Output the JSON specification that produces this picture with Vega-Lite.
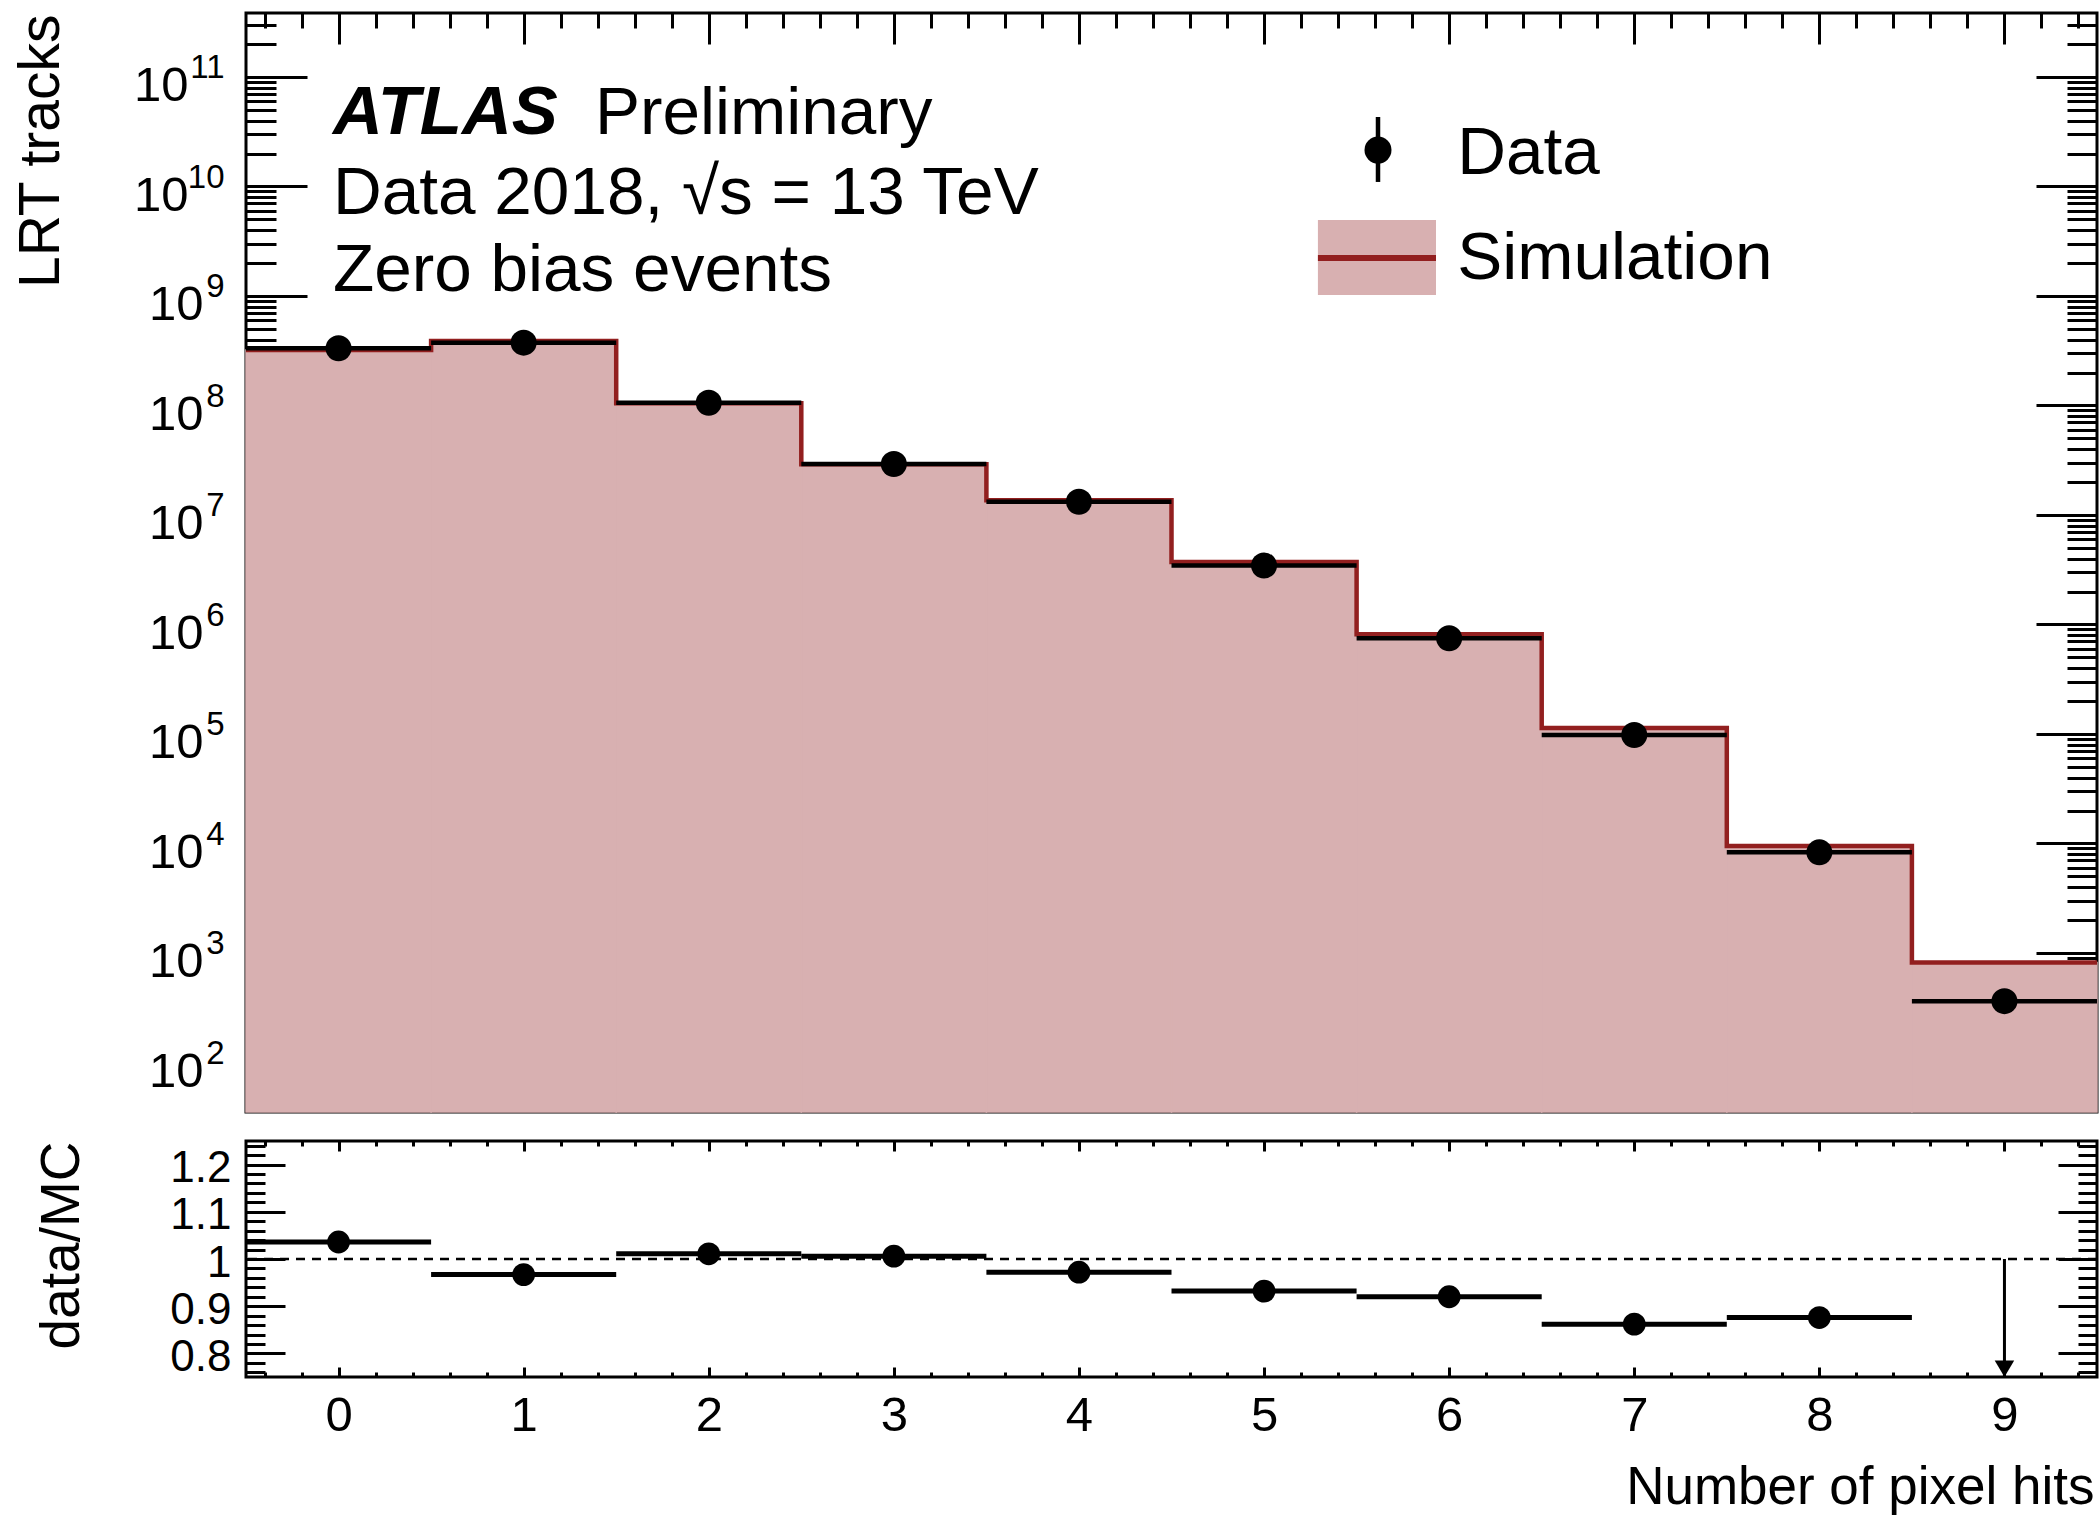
{
  "$schema": "https://vega.github.io/schema/vega-lite/v6.json",
  "background": "white",
  "padding": {"left": 10, "top": 10, "right": 0, "bottom": 0},
  "spacing": 23,
  "datasets": {
    "hist": [
      {"bin": 0, "lo": -0.5, "hi": 0.5, "sim": 3.21e8, "data": 3.33e8, "ratio": 1.036},
      {"bin": 1, "lo": 0.5, "hi": 1.5, "sim": 3.88e8, "data": 3.75e8, "ratio": 0.967},
      {"bin": 2, "lo": 1.5, "hi": 2.5, "sim": 1.05e8, "data": 1.06e8, "ratio": 1.011},
      {"bin": 3, "lo": 2.5, "hi": 3.5, "sim": 2.90e7, "data": 2.92e7, "ratio": 1.006},
      {"bin": 4, "lo": 3.5, "hi": 4.5, "sim": 1.36e7, "data": 1.32e7, "ratio": 0.972},
      {"bin": 5, "lo": 4.5, "hi": 5.5, "sim": 3.72e6, "data": 3.46e6, "ratio": 0.932},
      {"bin": 6, "lo": 5.5, "hi": 6.5, "sim": 8.13e5, "data": 7.48e5, "ratio": 0.920},
      {"bin": 7, "lo": 6.5, "hi": 7.5, "sim": 1.135e5, "data": 9.8e4, "ratio": 0.862},
      {"bin": 8, "lo": 7.5, "hi": 8.5, "sim": 9.5e3, "data": 8.3e3, "ratio": 0.876},
      {"bin": 9, "lo": 8.5, "hi": 9.5, "sim": 820, "data": 363, "ratio": 0.443}
    ]
  },
  "vconcat": [
    {
      "width": 1851,
      "height": 1099,
      "data": {"name": "hist"},
      "resolve": {"axis": {"x": "independent", "y": "independent"}},
      "layer": [
        {
          "mark": {"type": "rect", "color": "#d8b0b1", "stroke": "#d8b0b1", "strokeWidth": 1.5},
          "encoding": {
            "x": {"field": "lo", "type": "quantitative",
              "scale": {"domain": [-0.5, 9.5], "nice": false, "zero": false},
              "axis": {"orient": "bottom", "values": [0,1,2,3,4,5,6,7,8,9], "tickSize": -31, "labels": false, "title": null}},
            "x2": {"field": "hi"},
            "y": {"field": "sim", "type": "quantitative",
              "scale": {"type": "log", "domain": [35.3, 3.84e11], "nice": false},
              "axis": {"orient": "left", "values": [1e2,1e3,1e4,1e5,1e6,1e7,1e8,1e9,1e10,1e11], "tickSize": -61,
                "labelExpr": "'10'", "labelFontSize": 49, "labelAlign": "right", "labelBaseline": "alphabetic", "labelOffset": 24,
                "labelPadding": {"condition": {"test": "datum.value >= 1e10", "value": 119}, "value": 104},
                "title": "LRT tracks", "titleFontSize": 57, "titleX": -188, "titleY": 1, "titleAlign": "right", "titleBaseline": "alphabetic", "titleAngle": -90}},
            "y2": {"datum": 35.3}
          }
        },
        {
          "transform": [{"fold": ["lo", "hi"], "as": ["edge", "xv"]}],
          "mark": {"type": "line", "color": "#921f1f", "strokeWidth": 4.5, "strokeJoin": "miter", "strokeCap": "butt"},
          "encoding": {
            "x": {"field": "xv", "type": "quantitative",
              "axis": {"orient": "top", "values": [0,1,2,3,4,5,6,7,8,9], "tickSize": -31, "labels": false, "title": null}},
            "y": {"field": "sim", "type": "quantitative",
              "axis": {"orient": "left", "values": [1e2,1e3,1e4,1e5,1e6,1e7,1e8,1e9,1e10,1e11], "ticks": false,
                "labelExpr": "format(log(datum.value)/LN10, '.0f')", "labelFontSize": 33, "labelAlign": "right", "labelBaseline": "alphabetic", "labelOffset": 1, "labelPadding": 22, "title": null}},
            "order": [{"field": "bin", "type": "quantitative"}, {"field": "edge", "type": "ordinal", "sort": "descending"}]
          }
        },
        {
          "mark": {"type": "rule", "color": "black", "strokeWidth": 4.5},
          "encoding": {
            "x": {"field": "lo", "type": "quantitative",
              "axis": {"orient": "bottom", "values": [-0.4,-0.2,0.2,0.4,0.6,0.8,1.2,1.4,1.6,1.8,2.2,2.4,2.6,2.8,3.2,3.4,3.6,3.8,4.2,4.4,4.6,4.8,5.2,5.4,5.6,5.8,6.2,6.4,6.6,6.8,7.2,7.4,7.6,7.8,8.2,8.4,8.6,8.8,9.2,9.4], "tickSize": -15, "labels": false, "title": null}},
            "x2": {"field": "hi"},
            "y": {"field": "data", "type": "quantitative",
              "axis": {"orient": "left", "values": [40,50,60,70,80,90,2e2,3e2,4e2,5e2,6e2,7e2,8e2,9e2,2e3,3e3,4e3,5e3,6e3,7e3,8e3,9e3,2e4,3e4,4e4,5e4,6e4,7e4,8e4,9e4,2e5,3e5,4e5,5e5,6e5,7e5,8e5,9e5,2e6,3e6,4e6,5e6,6e6,7e6,8e6,9e6,2e7,3e7,4e7,5e7,6e7,7e7,8e7,9e7,2e8,3e8,4e8,5e8,6e8,7e8,8e8,9e8,2e9,3e9,4e9,5e9,6e9,7e9,8e9,9e9,2e10,3e10,4e10,5e10,6e10,7e10,8e10,9e10,2e11,3e11], "tickSize": -30, "labels": false, "title": null}}
          }
        },
        {
          "mark": {"type": "point", "shape": "circle", "filled": true, "color": "black", "opacity": 1, "size": 676},
          "encoding": {
            "x": {"field": "bin", "type": "quantitative",
              "axis": {"orient": "top", "values": [-0.4,-0.2,0.2,0.4,0.6,0.8,1.2,1.4,1.6,1.8,2.2,2.4,2.6,2.8,3.2,3.4,3.6,3.8,4.2,4.4,4.6,4.8,5.2,5.4,5.6,5.8,6.2,6.4,6.6,6.8,7.2,7.4,7.6,7.8,8.2,8.4,8.6,8.8,9.2,9.4], "tickSize": -15, "labels": false, "title": null}},
            "y": {"field": "data", "type": "quantitative",
              "axis": {"orient": "right", "values": [1e2,1e3,1e4,1e5,1e6,1e7,1e8,1e9,1e10,1e11], "tickSize": -61, "labels": false, "title": null}}
          }
        },
        {
          "data": {"values": [{"item": "Simulation"}]},
          "mark": {"type": "rect", "color": "#d8b0b1"},
          "encoding": {
            "x": {"datum": 5.291, "type": "quantitative", "axis": null},
            "x2": {"datum": 5.929},
            "y": {"datum": 4.94e9, "type": "quantitative",
              "axis": {"orient": "right", "values": [40,50,60,70,80,90,2e2,3e2,4e2,5e2,6e2,7e2,8e2,9e2,2e3,3e3,4e3,5e3,6e3,7e3,8e3,9e3,2e4,3e4,4e4,5e4,6e4,7e4,8e4,9e4,2e5,3e5,4e5,5e5,6e5,7e5,8e5,9e5,2e6,3e6,4e6,5e6,6e6,7e6,8e6,9e6,2e7,3e7,4e7,5e7,6e7,7e7,8e7,9e7,2e8,3e8,4e8,5e8,6e8,7e8,8e8,9e8,2e9,3e9,4e9,5e9,6e9,7e9,8e9,9e9,2e10,3e10,4e10,5e10,6e10,7e10,8e10,9e10,2e11,3e11], "tickSize": -30, "labels": false, "title": null}},
            "y2": {"datum": 1.02e9}
          }
        },
        {
          "data": {"values": [{"item": "Simulation"}]},
          "mark": {"type": "rule", "color": "#921f1f", "strokeWidth": 6},
          "encoding": {
            "x": {"datum": 5.291, "type": "quantitative", "axis": null},
            "x2": {"datum": 5.929},
            "y": {"datum": 2.22e9, "type": "quantitative", "axis": null}
          }
        },
        {
          "data": {"values": [{"item": "Data"}]},
          "mark": {"type": "rule", "color": "black", "strokeWidth": 4.5},
          "encoding": {
            "x": {"datum": 5.6156, "type": "quantitative", "axis": null},
            "y": {"datum": 4.31e10, "type": "quantitative", "axis": null},
            "y2": {"datum": 1.10e10}
          }
        },
        {
          "data": {"values": [{"item": "Data"}]},
          "mark": {"type": "point", "shape": "circle", "filled": true, "color": "black", "opacity": 1, "size": 729},
          "encoding": {
            "x": {"datum": 5.6156, "type": "quantitative", "axis": null},
            "y": {"datum": 2.15e10, "type": "quantitative", "axis": null}
          }
        },
        {
          "data": {"values": [{"t": "Data"}]},
          "mark": {"type": "text", "align": "left", "baseline": "alphabetic", "fontSize": 67.5, "color": "black"},
          "encoding": {
            "x": {"datum": 6.044, "type": "quantitative", "axis": null},
            "y": {"datum": 1.30e10, "type": "quantitative", "axis": null},
            "text": {"field": "t"}
          }
        },
        {
          "data": {"values": [{"t": "Simulation"}]},
          "mark": {"type": "text", "align": "left", "baseline": "alphabetic", "fontSize": 67.5, "color": "black"},
          "encoding": {
            "x": {"datum": 6.044, "type": "quantitative", "axis": null},
            "y": {"datum": 1.43e9, "type": "quantitative", "axis": null},
            "text": {"field": "t"}
          }
        },
        {
          "data": {"values": [{"t": "ATLAS"}]},
          "mark": {"type": "text", "align": "left", "baseline": "alphabetic", "fontSize": 69, "fontWeight": "bold", "fontStyle": "italic", "color": "black"},
          "encoding": {
            "x": {"datum": -0.03, "type": "quantitative", "axis": null},
            "y": {"datum": 3.017e10, "type": "quantitative", "axis": null},
            "text": {"field": "t"}
          }
        },
        {
          "data": {"values": [{"t": "Preliminary"}]},
          "mark": {"type": "text", "align": "left", "baseline": "alphabetic", "fontSize": 67.5, "color": "black"},
          "encoding": {
            "x": {"datum": 1.385, "type": "quantitative", "axis": null},
            "y": {"datum": 3.017e10, "type": "quantitative", "axis": null},
            "text": {"field": "t"}
          }
        },
        {
          "data": {"values": [{"t": "Data 2018, √s = 13 TeV"}]},
          "mark": {"type": "text", "align": "left", "baseline": "alphabetic", "fontSize": 67.5, "color": "black"},
          "encoding": {
            "x": {"datum": -0.03, "type": "quantitative", "axis": null},
            "y": {"datum": 5.61e9, "type": "quantitative", "axis": null},
            "text": {"field": "t"}
          }
        },
        {
          "data": {"values": [{"t": "Zero bias events"}]},
          "mark": {"type": "text", "align": "left", "baseline": "alphabetic", "fontSize": 67.5, "color": "black"},
          "encoding": {
            "x": {"datum": -0.03, "type": "quantitative", "axis": null},
            "y": {"datum": 1.11e9, "type": "quantitative", "axis": null},
            "text": {"field": "t"}
          }
        }
      ]
    },
    {
      "width": 1851,
      "height": 236,
      "data": {"name": "hist"},
      "resolve": {"axis": {"x": "independent", "y": "independent"}},
      "layer": [
        {
          "data": {"values": [{"ref": 1}]},
          "mark": {"type": "rule", "color": "black", "strokeWidth": 2.5, "strokeDash": [9, 7]},
          "encoding": {
            "y": {"field": "ref", "type": "quantitative",
              "scale": {"domain": [0.75, 1.25], "nice": false, "zero": false},
              "axis": {"orient": "left", "values": [0.8, 0.9, 1, 1.1, 1.2], "tickSize": -39, "format": "~g",
                "labelFontSize": 44, "labelPadding": 54, "labelAlign": "right", "labelBaseline": "middle", "labelOffset": 4,
                "title": "data/MC", "titleFontSize": 55, "titleX": -168, "titleY": 0, "titleAlign": "right", "titleBaseline": "alphabetic", "titleAngle": -90}}
          }
        },
        {
          "transform": [{"filter": "datum.ratio >= 0.75"}],
          "mark": {"type": "rule", "color": "black", "strokeWidth": 5},
          "encoding": {
            "x": {"field": "lo", "type": "quantitative",
              "scale": {"domain": [-0.5, 9.5], "nice": false, "zero": false},
              "axis": {"orient": "bottom", "values": [0,1,2,3,4,5,6,7,8,9], "tickSize": -10, "labelFontSize": 49, "labelBaseline": "top", "labelPadding": 24, "labelFlush": false,
                "title": "Number of pixel hits", "titleFontSize": 53, "titleX": 1848, "titleY": 126, "titleAlign": "right", "titleAnchor": "end", "titleBaseline": "alphabetic"}},
            "x2": {"field": "hi"},
            "y": {"field": "ratio", "type": "quantitative",
              "axis": {"orient": "left", "values": [0.76,0.78,0.82,0.84,0.86,0.88,0.92,0.94,0.96,0.98,1.02,1.04,1.06,1.08,1.12,1.14,1.16,1.18,1.22,1.24], "tickSize": -19, "labels": false, "title": null}}
          }
        },
        {
          "transform": [{"filter": "datum.ratio >= 0.75"}],
          "mark": {"type": "point", "shape": "circle", "filled": true, "color": "black", "opacity": 1, "size": 520},
          "encoding": {
            "x": {"field": "bin", "type": "quantitative",
              "axis": {"orient": "bottom", "values": [-0.4,-0.2,0.2,0.4,0.6,0.8,1.2,1.4,1.6,1.8,2.2,2.4,2.6,2.8,3.2,3.4,3.6,3.8,4.2,4.4,4.6,4.8,5.2,5.4,5.6,5.8,6.2,6.4,6.6,6.8,7.2,7.4,7.6,7.8,8.2,8.4,8.6,8.8,9.2,9.4], "tickSize": -5, "labels": false, "title": null}},
            "y": {"field": "ratio", "type": "quantitative",
              "axis": {"orient": "right", "values": [0.8, 0.9, 1, 1.1, 1.2], "tickSize": -39, "labels": false, "title": null}}
          }
        },
        {
          "transform": [{"filter": "datum.ratio < 0.75"}],
          "mark": {"type": "rule", "color": "black", "strokeWidth": 3},
          "encoding": {
            "x": {"field": "bin", "type": "quantitative",
              "axis": {"orient": "top", "values": [0,1,2,3,4,5,6,7,8,9], "tickSize": -10, "labels": false, "title": null}},
            "y": {"datum": 1, "type": "quantitative",
              "axis": {"orient": "right", "values": [0.76,0.78,0.82,0.84,0.86,0.88,0.92,0.94,0.96,0.98,1.02,1.04,1.06,1.08,1.12,1.14,1.16,1.18,1.22,1.24], "tickSize": -19, "labels": false, "title": null}},
            "y2": {"datum": 0.75}
          }
        },
        {
          "transform": [{"filter": "datum.ratio < 0.75"}],
          "mark": {"type": "point", "shape": "M-0.65,-1.1L0.65,-1.1L0,0Z", "filled": true, "color": "black", "opacity": 1, "size": 900},
          "encoding": {
            "x": {"field": "bin", "type": "quantitative",
              "axis": {"orient": "top", "values": [-0.4,-0.2,0.2,0.4,0.6,0.8,1.2,1.4,1.6,1.8,2.2,2.4,2.6,2.8,3.2,3.4,3.6,3.8,4.2,4.4,4.6,4.8,5.2,5.4,5.6,5.8,6.2,6.4,6.6,6.8,7.2,7.4,7.6,7.8,8.2,8.4,8.6,8.8,9.2,9.4], "tickSize": -5, "labels": false, "title": null}},
            "y": {"datum": 0.75, "type": "quantitative", "axis": null}
          }
        }
      ]
    }
  ],
  "config": {
    "font": "Liberation Sans",
    "view": {"stroke": "black", "strokeWidth": 3},
    "axis": {
      "domain": false, "grid": false, "zindex": 1,
      "tickColor": "black", "tickWidth": 3,
      "labelColor": "black", "labelFont": "Liberation Sans", "labelOverlap": false,
      "titleColor": "black", "titleFont": "Liberation Sans", "titleFontWeight": "normal"
    }
  }
}
